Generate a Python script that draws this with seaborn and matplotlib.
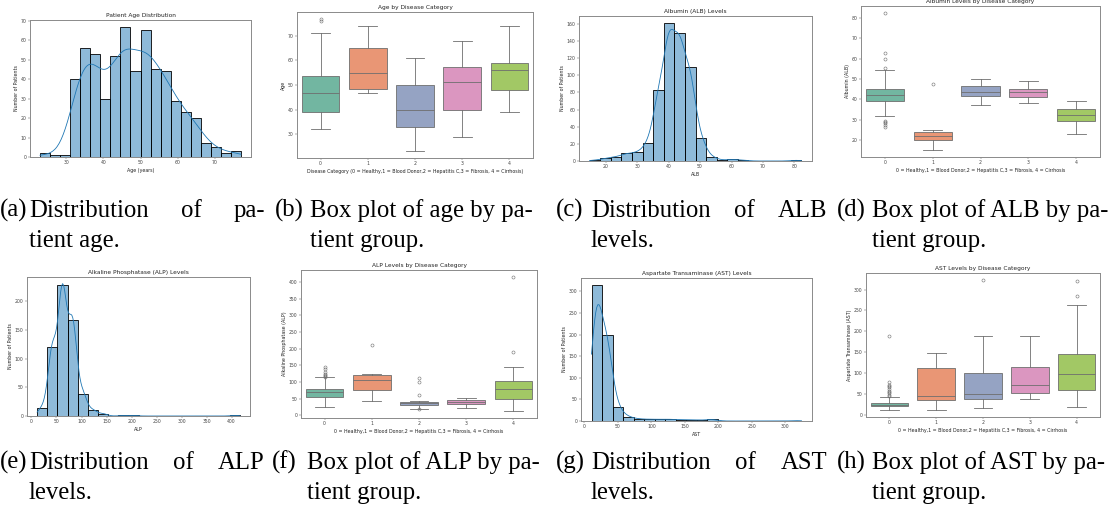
import seaborn as sns
import matplotlib.pyplot as plt
import numpy as np
import pandas as pd

# ---- histogram counts (20 equal bins each) ----
age_counts = [2, 1, 1, 40, 56, 53, 30, 52, 67, 44, 65, 45, 44, 29, 23, 20, 7, 5, 2, 3]
age_range = [23, 77]
alb_counts = [1, 3, 5, 9, 10, 21, 83, 161, 149, 110, 27, 5, 1, 2, 1, 0, 0, 0, 0, 1]
alb_range = [14.9, 82.2]
alp_counts = [14, 121, 228, 167, 39, 10, 4, 0, 1, 1, 0, 0, 0, 0, 0, 0, 0, 0, 0, 1]
alp_range = [11.3, 416.6]
ast_counts = [315, 200, 33, 10, 5, 4, 4, 4, 3, 3, 2, 4, 0, 0, 0, 0, 0, 0, 0, 1]
ast_range = [10.6, 324.0]

# ---- box plot summaries per disease category 0..4 ----
groups = ['0', '1', '2', '3', '4']

age_lo = [32.2, 47, 23.1, 29.1, 38.9]
age_q1 = [38.9, 48.5, 32.8, 39.7, 48.2]
age_med = [47, 55.1, 39.7, 51.1, 56.1]
age_q3 = [53.8, 64.9, 49.9, 57.4, 59]
age_hi = [71.1, 74, 61, 68, 74]
age_out = [[76, 77], [], [], [], []]

alb_lo = [31.6, 15, 37.4, 38.4, 23.1]
alb_q1 = [39.3, 20.2, 41.8, 41.2, 29.1]
alb_med = [42.3, 22, 43.6, 43.4, 32.4]
alb_q3 = [45.3, 23.8, 46.4, 45.3, 35.4]
alb_hi = [54.6, 25, 50.2, 49.2, 39.2]
alb_out = [[26.5, 27.5, 28.3, 29.0, 29.5, 55.5, 59.8, 63, 82.5], [47.5], [], [], []]

alp_lo = [25, 42.5, 20, 23.3, 12]
alp_q1 = [56, 77, 31.4, 34.4, 48.6]
alp_med = [71, 107, 35.4, 39.5, 80]
alp_q3 = [79, 121, 39.5, 45.6, 103]
alp_hi = [114, 125, 43.5, 52.7, 144]
alp_out = [[116, 118, 121, 124, 130, 138, 145], [211], [19, 60, 100, 113], [], [191, 416]]

ast_lo = [11, 11, 18, 37.7, 19]
ast_q1 = [22, 35, 38, 53.4, 60.5]
ast_med = [25, 46, 50, 72, 97.4]
ast_q3 = [29, 113, 101, 115.5, 146]
ast_hi = [42, 148, 189, 188.5, 263]
ast_out = [[45, 48, 52, 55, 58, 62, 66, 70, 73, 78, 190], [], [324], [], [285, 321]]

cat_label = '0 = Healthy,1 = Blood Donor,2 = Hepatitis C,3 = Fibrosis, 4 = Cirrhosis'

plt.rcParams.update({
    'font.size': 3.4,
    'axes.titlesize': 4.2,
    'axes.labelsize': 3.4,
    'xtick.labelsize': 3.3,
    'ytick.labelsize': 3.3,
    'axes.edgecolor': '#8a8a8a',
    'axes.linewidth': 0.7,
    'xtick.major.size': 1.3,
    'ytick.major.size': 1.3,
    'xtick.major.width': 0.3,
    'ytick.major.width': 0.3,
    'xtick.major.pad': 1.2,
    'ytick.major.pad': 1.2,
    'axes.labelpad': 1.5,
    'axes.titlepad': 2,
    'text.color': '#222222',
    'axes.labelcolor': '#222222',
    'xtick.color': '#444444',
    'ytick.color': '#444444',
})

fig = plt.figure(figsize=(11.12, 5.15), dpi=100)


def px_axes(l, r, t, b):
    return fig.add_axes([l / 1112, 1 - b / 515, (r - l) / 1112, (b - t) / 515])


def hist_panel(ax, counts, rng, title, xlabel, bw_scale=1.0):
    edges = np.linspace(rng[0], rng[1], len(counts) + 1)
    centers = (edges[:-1] + edges[1:]) / 2
    w = np.array(counts, float)
    df = pd.DataFrame({'value': centers, 'n': w})
    # keep the kde bandwidth close to what the raw sample would give
    neff = w.sum() ** 2 / (w ** 2).sum()
    adj = (neff / w.sum()) ** 0.2 * bw_scale
    sns.histplot(data=df, x='value', weights='n', bins=len(counts),
                 binrange=(rng[0], rng[1]), kde=True, ax=ax,
                 color='#1f77b4', alpha=0.5, edgecolor='black', linewidth=0.6,
                 kde_kws=dict(bw_adjust=adj, cut=3, clip=(rng[0], rng[1])),
                 line_kws=dict(linewidth=0.6))
    ax.set_title(title)
    ax.set_xlabel(xlabel)
    ax.set_ylabel('Number of Patients')


pal = sns.color_palette('Set2', 5, desat=0.75)
lc = '#6e6e6e'


def box_panel(ax, lo, q1, med, q3, hi, out, title, ylabel, xlabel):
    stats = []
    for i in range(len(groups)):
        stats.append(dict(whislo=lo[i], q1=q1[i], med=med[i], q3=q3[i],
                          whishi=hi[i], fliers=out[i], label=groups[i]))
    bp = ax.bxp(stats, positions=range(len(groups)), widths=0.8,
                capwidths=0.4, patch_artist=True,
                boxprops=dict(edgecolor=lc, linewidth=0.6),
                medianprops=dict(color=lc, linewidth=0.6),
                whiskerprops=dict(color=lc, linewidth=0.6),
                capprops=dict(color=lc, linewidth=0.6),
                flierprops=dict(marker='o', markerfacecolor='none',
                                markeredgecolor=lc, markersize=2.2,
                                markeredgewidth=0.4))
    for patch, c in zip(bp['boxes'], pal):
        patch.set_facecolor(c)
    ax.set_xlim(-0.5, len(groups) - 0.5)
    ax.set_title(title)
    ax.set_ylabel(ylabel)
    ax.set_xlabel(xlabel)


# top row
ax = px_axes(30, 251, 20, 157)
hist_panel(ax, age_counts, age_range, 'Patient Age Distribution', 'Age (years)')

ax = px_axes(297, 533, 12, 158)
box_panel(ax, age_lo, age_q1, age_med, age_q3, age_hi, age_out,
          'Age by Disease Category', 'Age',
          'Disease Category (0 = Healthy,1 = Blood Donor,2 = Hepatitis C,3 = Fibrosis, 4 = Cirrhosis)')

ax = px_axes(579, 812, 16, 161)
hist_panel(ax, alb_counts, alb_range, 'Albumin (ALB) Levels', 'ALB')

ax = px_axes(861, 1100, 6, 157)
box_panel(ax, alb_lo, alb_q1, alb_med, alb_q3, alb_hi, alb_out,
          'Albumin Levels by Disease Category', 'Albumin (ALB)', cat_label)

# bottom row
ax = px_axes(27, 250, 277, 416)
hist_panel(ax, alp_counts, alp_range, 'Alkaline Phosphatase (ALP) Levels', 'ALP')

ax = px_axes(301, 537, 270, 418)
box_panel(ax, alp_lo, alp_q1, alp_med, alp_q3, alp_hi, alp_out,
          'ALP Levels by Disease Category', 'Alkaline Phosphatase (ALP)', cat_label)

ax = px_axes(581, 812, 278, 421)
hist_panel(ax, ast_counts, ast_range, 'Aspartate Transaminase (AST) Levels', 'AST',
           bw_scale=0.8)

ax = px_axes(866, 1100, 273, 417)
box_panel(ax, ast_lo, ast_q1, ast_med, ast_q3, ast_hi, ast_out,
          'AST Levels by Disease Category', 'Aspartate Transaminase (AST)', cat_label)

# sub-figure captions
cap = dict(family='Liberation Serif', fontsize=17.8, color='black', va='baseline')
renderer = fig.canvas.get_renderer()


def ftext(x, y, s):
    return fig.text(x / 1112, 1 - y / 515, s, **cap)


def caption(label, x0, y0, first, second, justify=False, indent=38, width=274):
    ftext(max(x0 + 3, 0), y0, label)
    xt = x0 + indent
    if justify:
        # spread the words of the first line over the whole column width
        words = first.split()
        texts = [ftext(0, y0, w) for w in words]
        widths = [t.get_window_extent(renderer).width for t in texts]
        gap = (x0 + width - xt - sum(widths)) / (len(words) - 1)
        x = xt
        for t, wd in zip(texts, widths):
            t.set_x(x / 1112)
            x += wd + gap
    else:
        ftext(xt, y0, first)
    ftext(xt, y0 + 30, second)


cols = [-9, 272, 553, 834]
caption('(a)', cols[0], 217, 'Distribution of pa-', 'tient age.', justify=True)
caption('(b)', cols[1], 217, 'Box plot of age by pa-', 'tient group.')
caption('(c)', cols[2], 217, 'Distribution of ALB', 'levels.', justify=True)
caption('(d)', cols[3], 217, 'Box plot of ALB by pa-', 'tient group.')
caption('(e)', cols[0], 469, 'Distribution of ALP', 'levels.', justify=True)
caption('(f)', cols[1] - 3, 469, 'Box plot of ALP by pa-', 'tient group.')
caption('(g)', cols[2], 469, 'Distribution of AST', 'levels.', justify=True)
caption('(h)', cols[3], 469, 'Box plot of AST by pa-', 'tient group.')

fig.savefig('out.png', dpi=100)
